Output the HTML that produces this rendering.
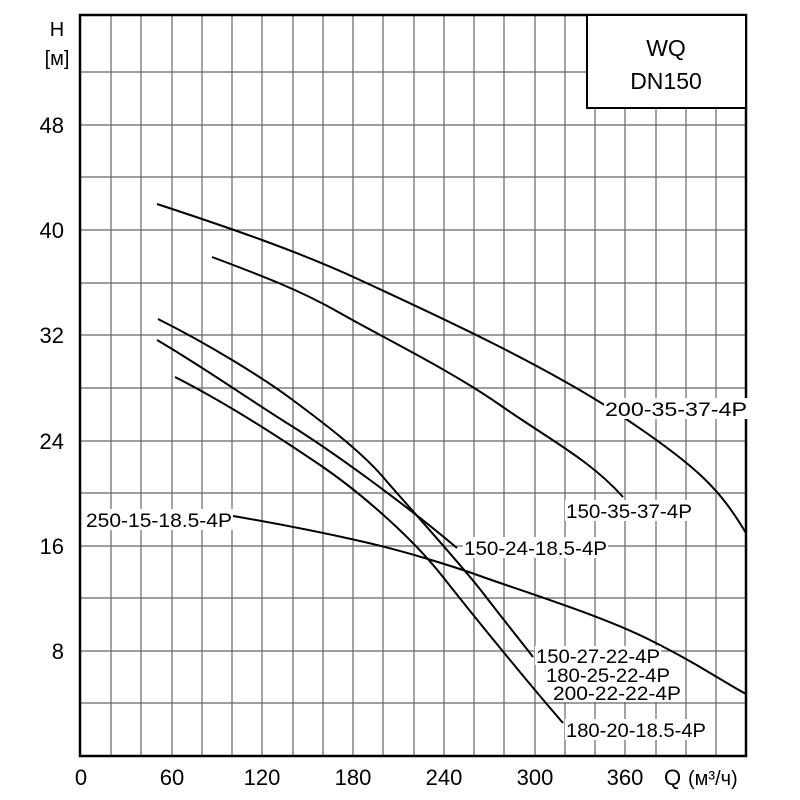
<!DOCTYPE html>
<html><head><meta charset="utf-8"><style>
html,body{margin:0;padding:0;background:#fff;}
svg{display:block;}
text{font-family:"Liberation Sans",sans-serif;fill:#000;}
.n{font-size:19px;}
</style></head><body>
<svg width="800" height="800" viewBox="0 0 800 800" xmlns="http://www.w3.org/2000/svg">
<g stroke="#666" stroke-width="1.2">
<line x1="111" y1="15" x2="111" y2="756"/><line x1="141" y1="15" x2="141" y2="756"/><line x1="172" y1="15" x2="172" y2="756"/><line x1="202" y1="15" x2="202" y2="756"/><line x1="232" y1="15" x2="232" y2="756"/><line x1="262" y1="15" x2="262" y2="756"/><line x1="293" y1="15" x2="293" y2="756"/><line x1="323" y1="15" x2="323" y2="756"/><line x1="353" y1="15" x2="353" y2="756"/><line x1="383" y1="15" x2="383" y2="756"/><line x1="414" y1="15" x2="414" y2="756"/><line x1="444" y1="15" x2="444" y2="756"/><line x1="474" y1="15" x2="474" y2="756"/><line x1="504" y1="15" x2="504" y2="756"/><line x1="535" y1="15" x2="535" y2="756"/><line x1="565" y1="15" x2="565" y2="756"/><line x1="595" y1="15" x2="595" y2="756"/><line x1="625" y1="15" x2="625" y2="756"/><line x1="656" y1="15" x2="656" y2="756"/><line x1="686" y1="15" x2="686" y2="756"/><line x1="716" y1="15" x2="716" y2="756"/>
<line x1="80" y1="72" x2="746" y2="72"/><line x1="80" y1="125" x2="746" y2="125"/><line x1="80" y1="177" x2="746" y2="177"/><line x1="80" y1="230" x2="746" y2="230"/><line x1="80" y1="283" x2="746" y2="283"/><line x1="80" y1="335" x2="746" y2="335"/><line x1="80" y1="388" x2="746" y2="388"/><line x1="80" y1="441" x2="746" y2="441"/><line x1="80" y1="493" x2="746" y2="493"/><line x1="80" y1="546" x2="746" y2="546"/><line x1="80" y1="598" x2="746" y2="598"/><line x1="80" y1="651" x2="746" y2="651"/><line x1="80" y1="703" x2="746" y2="703"/>
</g>
<rect x="80" y="15" width="666" height="741" fill="none" stroke="#000" stroke-width="2.5"/>
<rect x="587" y="15" width="159" height="93" fill="#fff" stroke="#000" stroke-width="2"/>
<text x="666" y="56" font-size="23" text-anchor="middle">WQ</text>
<text x="666" y="89" font-size="23" text-anchor="middle">DN150</text>
<g fill="none" stroke="#000" stroke-width="2">
<path d="M157,204 C230,228 300,252 360,280 S540,362 620,415 S720,490 746,533"/>
<path d="M212,257 C260,275 300,290 340,313 S450,370 500,405 S590,460 623,497"/>
<path d="M158,319 C210,345 263,378 290,398 S360,450 383,477 S460,563 483,593 S520,640 533,657"/>
<path d="M157,340 C200,365 250,400 290,425 S400,500 457,548"/>
<path d="M175,377 C230,405 283,440 320,465 S410,535 443,577 S530,685 563,723"/>
<path d="M233,516 C280,524 320,532 360,541 S450,565 483,577 S600,615 650,640 S720,680 746,694"/>
</g>
<g class="n" lengthAdjust="spacingAndGlyphs">
<rect x="604" y="398" width="144" height="21" fill="#fff"/><text x="605" y="416" textLength="142" lengthAdjust="spacingAndGlyphs">200-35-37-4P</text>
<rect x="565" y="500" width="128" height="21" fill="#fff"/><text x="566" y="518" textLength="126" lengthAdjust="spacingAndGlyphs">150-35-37-4P</text>
<rect x="463" y="537" width="145" height="21" fill="#fff"/><text x="464" y="555" textLength="143" lengthAdjust="spacingAndGlyphs">150-24-18.5-4P</text>
<rect x="535" y="646" width="126" height="19" fill="#fff"/><text x="536" y="663" textLength="124" lengthAdjust="spacingAndGlyphs">150-27-22-4P</text>
<rect x="545" y="665" width="126" height="19" fill="#fff"/><text x="546" y="682" textLength="124" lengthAdjust="spacingAndGlyphs">180-25-22-4P</text>
<rect x="552" y="683" width="130" height="19" fill="#fff"/><text x="553" y="700" textLength="128" lengthAdjust="spacingAndGlyphs">200-22-22-4P</text>
<rect x="565" y="719" width="142" height="21" fill="#fff"/><text x="566" y="737" textLength="140" lengthAdjust="spacingAndGlyphs">180-20-18.5-4P</text>
<rect x="85" y="509" width="148" height="21" fill="#fff"/><text x="86" y="527" textLength="146" lengthAdjust="spacingAndGlyphs">250-15-18.5-4P</text>
</g>
<g font-size="22" text-anchor="end">
<text x="64" y="133">48</text><text x="64" y="238">40</text><text x="64" y="343">32</text><text x="64" y="449">24</text><text x="64" y="554">16</text><text x="64" y="659">8</text>
</g>
<text x="57" y="36" font-size="20" text-anchor="middle">H</text>
<text x="57" y="65" font-size="20" text-anchor="middle">[м]</text>
<g font-size="22" text-anchor="middle">
<text x="81" y="785">0</text><text x="172" y="785">60</text><text x="262" y="785">120</text><text x="353" y="785">180</text><text x="444" y="785">240</text><text x="535" y="785">300</text><text x="625" y="785">360</text>
</g>
<text x="664" y="785" font-size="22">Q</text>
<text x="688" y="785" font-size="20">(м³/ч)</text>
</svg>
</body></html>
